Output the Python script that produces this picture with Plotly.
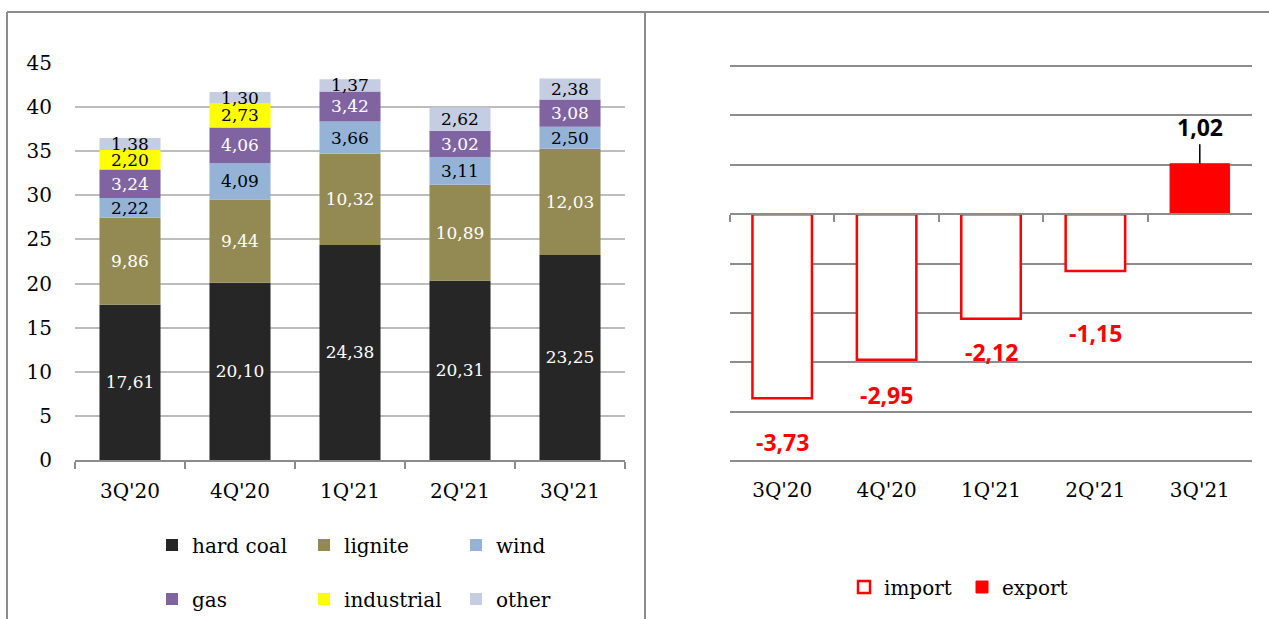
import plotly.graph_objects as go

W, H = 1269, 619

quarters = ["3Q'20", "4Q'20", "1Q'21", "2Q'21", "3Q'21"]
hard_coal = [17.61, 20.10, 24.38, 20.31, 23.25]
lignite = [9.86, 9.44, 10.32, 10.89, 12.03]
wind = [2.22, 4.09, 3.66, 3.11, 2.50]
gas = [3.24, 4.06, 3.42, 3.02, 3.08]
industrial = [2.20, 2.73, None, None, None]
other = [1.38, 1.30, 1.37, 2.62, 2.38]

import_vals = [-3.73, -2.95, -2.12, -1.15, None]
export_vals = [None, None, None, None, 1.02]

series_names = ["hard coal", "lignite", "wind", "gas", "industrial", "other"]
series_vals = [hard_coal, lignite, wind, gas, industrial, other]
series_colors = ["#262626", "#938953", "#94b3d7", "#8064a2", "#ffff00", "#c4cde2"]
text_colors = ["white", "white", "black", "white", "black", "black"]
legend_ids = ["legend", "legend", "legend", "legend2", "legend2", "legend2"]

# label offsets (px) for right-panel data labels
import_label_shift = [-44, -35, -33, -62]

SERIF = "DejaVu Serif"
SANS = "Open Sans"


def fmt(v):
    return f"{v:.2f}".replace(".", ",")


def px_x(x):
    return x / W


def px_y(y):
    return 1 - y / H


fig = go.Figure()

for name, vals, col, tcol, lg in zip(series_names, series_vals, series_colors, text_colors, legend_ids):
    fig.add_trace(go.Bar(
        x=quarters, y=vals, name=name, marker=dict(color=col, line=dict(width=0)),
        text=[fmt(v) if v is not None else "" for v in vals],
        textposition="inside", insidetextanchor="middle", textangle=0,
        constraintext="none",
        textfont=dict(family=SERIF, size=17, color=tcol),
        width=0.555, xaxis="x", yaxis="y", legend=lg, hoverinfo="skip",
    ))

fig.add_trace(go.Bar(
    x=quarters, y=import_vals, name="import",
    marker=dict(color="white", line=dict(color="#ff0000", width=2.5)),
    width=0.57, xaxis="x2", yaxis="y2", legend="legend3", hoverinfo="skip",
))
fig.add_trace(go.Bar(
    x=quarters, y=export_vals, name="export",
    marker=dict(color="#ff0000", line=dict(color="#ff0000", width=1)),
    width=0.57, xaxis="x2", yaxis="y2", legend="legend3", hoverinfo="skip",
))

annotations = []
for q, v, s in zip(quarters, import_vals, import_label_shift):
    if v is None:
        continue
    annotations.append(dict(
        x=q, y=v, xref="x2", yref="y2", text=fmt(v), showarrow=False, yshift=s,
        font=dict(family=SANS, size=23, color="#ff0000", weight="bold"),
    ))
for q, v in zip(quarters, export_vals):
    if v is None:
        continue
    annotations.append(dict(
        x=q, y=v, xref="x2", yref="y2", text=fmt(v), showarrow=True,
        arrowhead=0, arrowwidth=1.5, arrowcolor="black", ax=0, ay=-37, standoff=0,
        font=dict(family=SANS, size=23, color="black", weight="bold"),
    ))

# right panel: grid from -5 (y=461px) to 3 (y=66px); pad range slightly so edge gridlines draw
pad = 0.04
unit_px = (461 - 66) / 8
y2_range = [-5 - pad, 3 + pad]
y2_dom = [px_y(461 + pad * unit_px), px_y(66 - pad * unit_px)]
zero_pos = y2_dom[0] + (0 - y2_range[0]) / (y2_range[1] - y2_range[0]) * (y2_dom[1] - y2_dom[0])

axis_grey = "#8c8c8c"

fig.update_layout(
    width=W, height=H,
    margin=dict(l=0, r=0, t=0, b=0, autoexpand=False),
    paper_bgcolor="white", plot_bgcolor="white",
    barmode="relative",
    showlegend=True,
    font=dict(family=SERIF, size=20, color="black"),
    xaxis=dict(
        domain=[px_x(75), px_x(625)], anchor="y", type="category", range=[-0.5, 4.5],
        showline=True, linecolor=axis_grey, linewidth=2,
        ticks="outside", tickson="boundaries", ticklen=7, tickwidth=2, tickcolor=axis_grey,
        showgrid=False, tickfont=dict(family=SERIF, size=20), ticklabelstandoff=12,
        automargin=False,
    ),
    yaxis=dict(
        domain=[px_y(460), px_y(63)], anchor="x", range=[0, 45], dtick=5,
        showgrid=True, gridcolor="#bdbdbd", gridwidth=2, zeroline=False, showline=False,
        ticks="", tickfont=dict(family=SERIF, size=20), ticklabelstandoff=22,
        automargin=False,
    ),
    xaxis2=dict(
        domain=[px_x(730), px_x(1252)], anchor="free", position=zero_pos,
        type="category", range=[-0.5, 4.5],
        showline=True, linecolor=axis_grey, linewidth=2,
        ticks="outside", tickson="boundaries", ticklen=7, tickwidth=2, tickcolor=axis_grey,
        showgrid=False, tickfont=dict(family=SERIF, size=20), ticklabelstandoff=258,
        automargin=False,
    ),
    yaxis2=dict(
        domain=y2_dom, anchor="x2", range=y2_range, dtick=1, tick0=0,
        showgrid=True, gridcolor=axis_grey, gridwidth=2, zeroline=False, showline=False,
        showticklabels=False, ticks="", automargin=False,
    ),
    legend=dict(
        orientation="h", x=px_x(152), xanchor="left", y=px_y(545), yanchor="middle",
        entrywidth=107, entrywidthmode="pixels", bgcolor="rgba(0,0,0,0)",
        font=dict(family=SERIF, size=20), traceorder="normal",
    ),
    legend2=dict(
        orientation="h", x=px_x(152), xanchor="left", y=px_y(599), yanchor="middle",
        entrywidth=107, entrywidthmode="pixels", bgcolor="rgba(0,0,0,0)",
        font=dict(family=SERIF, size=20), traceorder="normal",
    ),
    legend3=dict(
        orientation="h", x=px_x(844), xanchor="left", y=px_y(587), yanchor="middle",
        entrywidth=73, entrywidthmode="pixels",
        bgcolor="rgba(0,0,0,0)", font=dict(family=SERIF, size=20), traceorder="normal",
    ),
    annotations=annotations,
    shapes=[
        dict(type="line", xref="paper", yref="paper", x0=px_x(7), x1=1, y0=px_y(12), y1=px_y(12),
             line=dict(color=axis_grey, width=2)),
        dict(type="line", xref="paper", yref="paper", x0=px_x(7), x1=px_x(7), y0=0, y1=px_y(12),
             line=dict(color=axis_grey, width=2)),
        dict(type="line", xref="paper", yref="paper", x0=px_x(645), x1=px_x(645), y0=0, y1=px_y(12),
             line=dict(color=axis_grey, width=2)),
    ],
)

fig.write_html("out.html")
